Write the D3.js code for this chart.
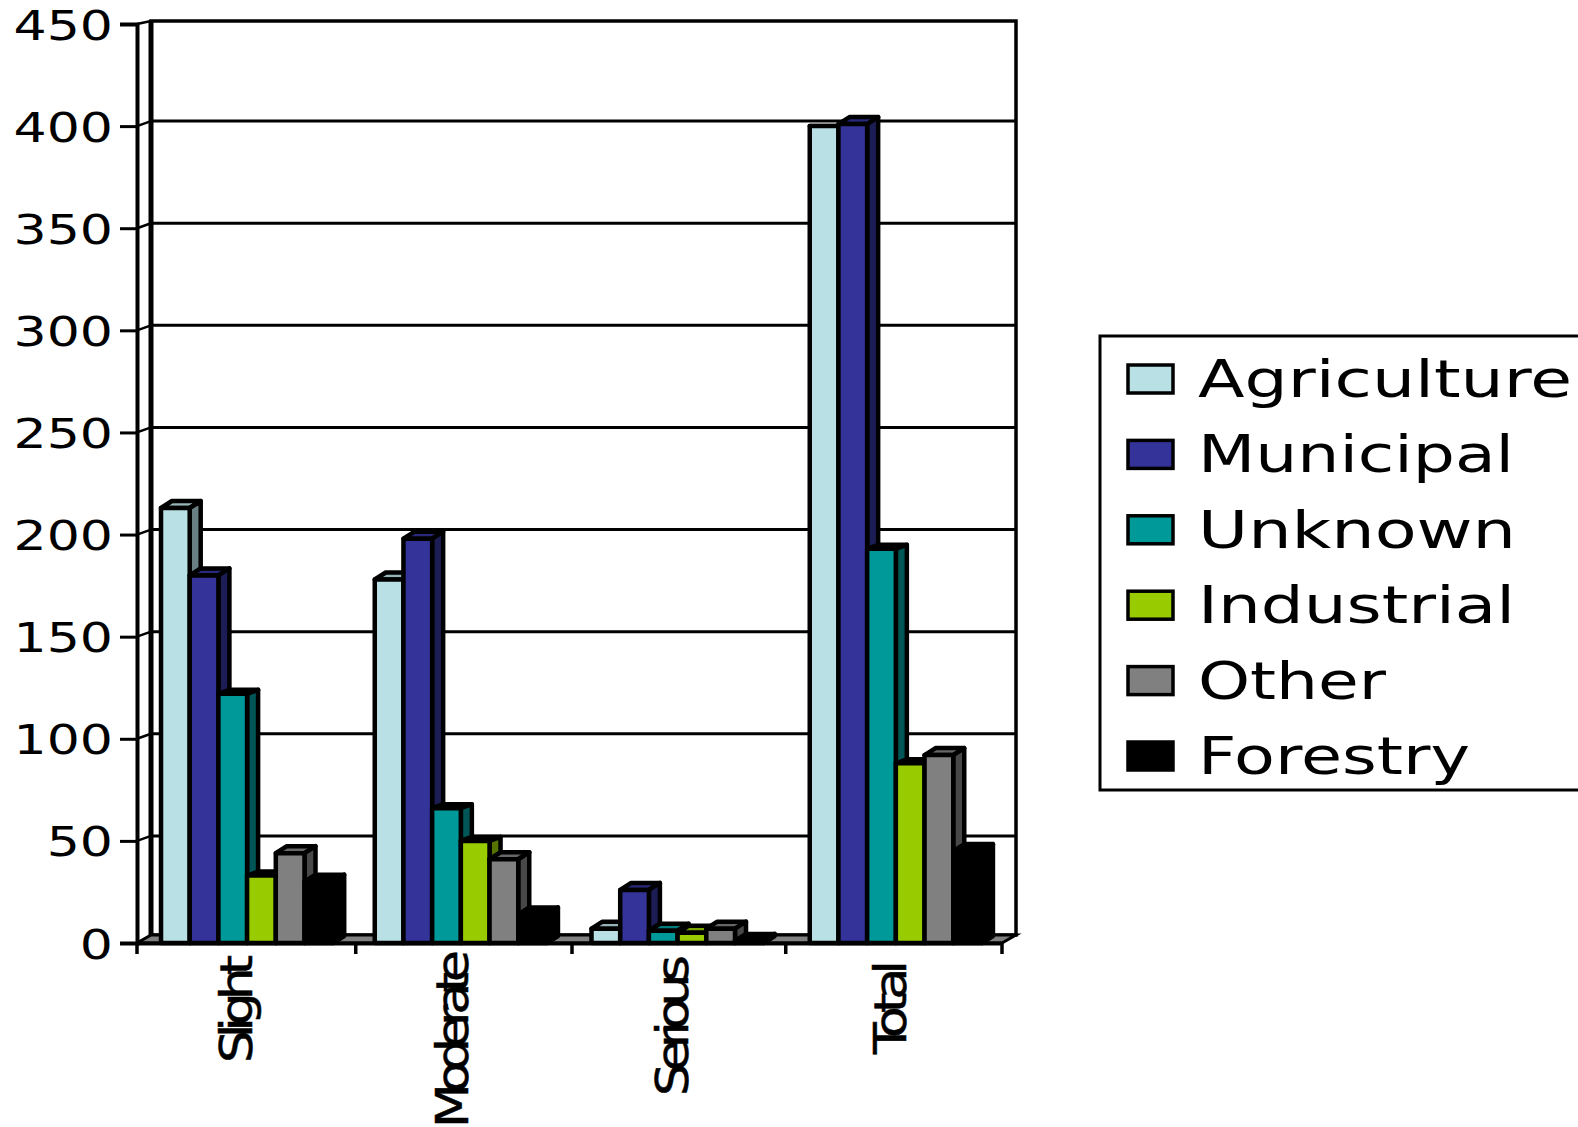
<!DOCTYPE html>
<html>
<head>
<meta charset="utf-8">
<script src="https://cdn.jsdelivr.net/npm/d3@7"></script>
<style>
  html, body { margin: 0; padding: 0; background: #fff; overflow: hidden; }
  text { font-family: "DejaVu Sans", sans-serif; fill: #000; }
</style>
</head>
<body>
<div id="chart"></div>
<script>
// chart data
const categories = ['Slight', 'Moderate', 'Serious', 'Total'];
const seriesNames = ['Agriculture', 'Municipal', 'Unknown', 'Industrial', 'Other', 'Forestry'];
const agriculture = [213, 178, 7, 400];
const municipal = [180, 198, 26, 401];
const unknown = [122, 66, 6, 193];
const industrial = [33, 50, 5, 88];
const other = [44, 41, 7, 92];
const forestry = [30, 14, 1, 45];
const seriesValues = [agriculture, municipal, unknown, industrial, other, forestry];
const yTicks = [0, 50, 100, 150, 200, 250, 300, 350, 400, 450];
const colors = ['#b9e0e4', '#333399', '#009999', '#99cc00', '#808080', '#000000'];

const svgWidth = 1578;
const svgHeight = 1127;

// the front plane of the fake 3d box
const plot = { left: 137, right: 1002, top: 24, bottom: 943 };
const wallDx = 14;      // back wall offset
const topDy = 3;        // top edge of the wall
const gridDy = 5;       // the gridlines slope up only a little
const floorDy = 8;
const barDx = 11;       // depth of each bar
const barDy = 7;
const barStep = 28.7;
const groupOffset = 24;

// the source rounds its group and tick positions unevenly
const groupNudge = { Slight: 0, Moderate: -2.5, Serious: -2, Total: 0 };
const tickNudge = [0, 2.5, 2.5, 0, 0];
// squeezed category labels: baseline nudge, where they start, length
const labelStyle = {
  Slight: { nudge: -2, start: 955, length: 108 },
  Moderate: { nudge: -2, start: 950, length: 178 },
  Serious: { nudge: 1, start: 955, length: 141 },
  Total: { nudge: 3, start: 960, length: 94 }
};
const labelStretch = 1.18;
const legendLength = { Agriculture: 374, Municipal: 316, Unknown: 318, Industrial: 317, Other: 188, Forestry: 272 };

const svg = d3.select('#chart').append('svg')
  .attr('width', svgWidth)
  .attr('height', svgHeight)
  .style('display', 'block');

const x = d3.scaleBand().domain(categories).range([plot.left, plot.right]);
const y = d3.scaleLinear().domain([0, 450]).range([plot.bottom, plot.top]);
const seriesX = d3.scaleBand().domain(seriesNames)
  .range([groupOffset, groupOffset + barStep * seriesNames.length]);

// back wall and gridlines
const wall = svg.append('g').attr('fill', 'none').attr('stroke', '#000');
wall.append('rect')
  .attr('x', plot.left + wallDx)
  .attr('y', y(450) - topDy)
  .attr('width', plot.right - plot.left)
  .attr('height', plot.bottom - plot.top - floorDy + topDy)
  .attr('stroke-width', 3.5);
wall.selectAll('.grid')
  .data(yTicks.slice(1, -1))
  .enter()
  .append('line')
  .attr('x1', plot.left + wallDx)
  .attr('x2', plot.right + wallDx)
  .attr('y1', d => y(d) - gridDy)
  .attr('y2', d => y(d) - gridDy)
  .attr('stroke-width', 3);
wall.selectAll('.slant')
  .data(yTicks)
  .enter()
  .append('line')
  .attr('x1', plot.left)
  .attr('x2', plot.left + wallDx)
  .attr('y1', d => y(d))
  .attr('y2', d => y(d) - (d === 450 ? topDy : gridDy))
  .attr('stroke-width', 2.5);
wall.append('line')
  .attr('x1', plot.left + wallDx)
  .attr('x2', plot.left + wallDx)
  .attr('y1', y(450) - topDy)
  .attr('y2', plot.bottom - floorDy)
  .attr('stroke-width', 5);

// floor
svg.append('polygon')
  .attr('points', [
    [plot.left, plot.bottom],
    [plot.right, plot.bottom],
    [plot.right + wallDx, plot.bottom - floorDy],
    [plot.left + wallDx, plot.bottom - floorDy]
  ].join(' '))
  .attr('fill', '#808080')
  .attr('stroke', '#000')
  .attr('stroke-width', 3);

// bars, drawn left to right so each one covers the side of the one before
const bars = [];
categories.forEach((cat, c) => {
  seriesNames.forEach((name, s) => {
    bars.push({ cat, name, value: seriesValues[s][c], color: colors[s] });
  });
});

const barGroups = svg.selectAll('.bar')
  .data(bars)
  .enter()
  .append('g')
  .attr('class', 'bar')
  .attr('stroke', '#000')
  .attr('stroke-width', 4.5)
  .attr('stroke-linejoin', 'round');

const barLeft = d => x(d.cat) + groupNudge[d.cat] + seriesX(d.name);
const barRight = d => barLeft(d) + seriesX.bandwidth();

// tall teal and green bars only show a black sliver on top in the source
const thinTop = d => (d.name === 'Unknown' || d.name === 'Industrial') && d.value > 10;
const depthY = d => {
  if (d.cat === 'Total' && d.name === 'Agriculture') return 0;
  return thinTop(d) ? 4 : barDy;
};

// top face
barGroups.append('polygon')
  .attr('points', d => [
    [barLeft(d), y(d.value)],
    [barRight(d), y(d.value)],
    [barRight(d) + barDx, y(d.value) - depthY(d)],
    [barLeft(d) + barDx, y(d.value) - depthY(d)]
  ].join(' '))
  .attr('fill', d => thinTop(d) ? '#000' : d3.color(d.color).darker(0.6));

// side face
barGroups.append('polygon')
  .attr('points', d => [
    [barRight(d), y(d.value)],
    [barRight(d) + barDx, y(d.value) - depthY(d)],
    [barRight(d) + barDx, plot.bottom - barDy],
    [barRight(d), plot.bottom]
  ].join(' '))
  .attr('fill', d => d3.color(d.color).darker(1.6));

// front face
barGroups.append('rect')
  .attr('x', barLeft)
  .attr('y', d => y(d.value))
  .attr('width', seriesX.bandwidth())
  .attr('height', d => plot.bottom - y(d.value))
  .attr('fill', d => d.color);

// y axis
const yAxis = svg.append('g')
  .attr('transform', `translate(${plot.left}, 0)`)
  .call(d3.axisLeft(y).tickValues(yTicks).tickSize(17).tickPadding(0));
yAxis.select('.domain').attr('stroke', '#000').attr('stroke-width', 4);
yAxis.selectAll('.tick line').attr('stroke', '#000').attr('stroke-width', 3);
yAxis.selectAll('.tick text')
  .attr('x', 0)
  .attr('dy', null)
  .attr('text-anchor', 'end')
  .attr('font-size', 41)
  .attr('transform', 'translate(-24, 15) scale(1.27, 1)');

// x axis
const xAxis = svg.append('g')
  .attr('transform', `translate(0, ${plot.bottom})`)
  .call(d3.axisBottom(x).tickSize(0).tickFormat(''));
xAxis.select('.domain').attr('stroke', '#000').attr('stroke-width', 4);
xAxis.selectAll('.edge')
  .data(d3.range(categories.length + 1))
  .enter()
  .append('line')
  .attr('x1', i => plot.left + i * x.step() + tickNudge[i])
  .attr('x2', i => plot.left + i * x.step() + tickNudge[i])
  .attr('y1', 0)
  .attr('y2', 11)
  .attr('stroke', '#000')
  .attr('stroke-width', 3.5);

svg.selectAll('.catLabel')
  .data(categories)
  .enter()
  .append('text')
  .attr('class', 'catLabel')
  .attr('transform', d => `translate(${x(d) + x.bandwidth() / 2 + 9 + labelStyle[d].nudge}, ${labelStyle[d].start}) rotate(-90) scale(${labelStretch}, 1)`)
  .attr('text-anchor', 'end')
  .attr('font-size', 44)
  .attr('stroke', '#000')
  .attr('stroke-width', 0.5)
  .attr('textLength', d => labelStyle[d].length / labelStretch)
  .attr('lengthAdjust', 'spacing')
  .text(d => d);

// legend, runs off the right edge of the page
const legendY = d3.scalePoint().domain(seriesNames).range([379, 756]);
svg.append('rect')
  .attr('x', 1100)
  .attr('y', 336)
  .attr('width', 520)
  .attr('height', 454)
  .attr('fill', '#fff')
  .attr('stroke', '#000')
  .attr('stroke-width', 3);

const legendItems = svg.selectAll('.legendItem')
  .data(seriesNames)
  .enter()
  .append('g')
  .attr('class', 'legendItem')
  .attr('transform', d => `translate(1128, ${legendY(d)})`);
legendItems.append('rect')
  .attr('x', 0)
  .attr('y', -14)
  .attr('width', 45)
  .attr('height', 28)
  .attr('fill', (d, i) => colors[i])
  .attr('stroke', '#000')
  .attr('stroke-width', 3.5);
legendItems.append('text')
  .attr('x', 70)
  .attr('y', 18)
  .attr('font-size', 52)
  .attr('textLength', d => legendLength[d])
  .attr('lengthAdjust', 'spacingAndGlyphs')
  .text(d => d);
</script>
</body>
</html>
